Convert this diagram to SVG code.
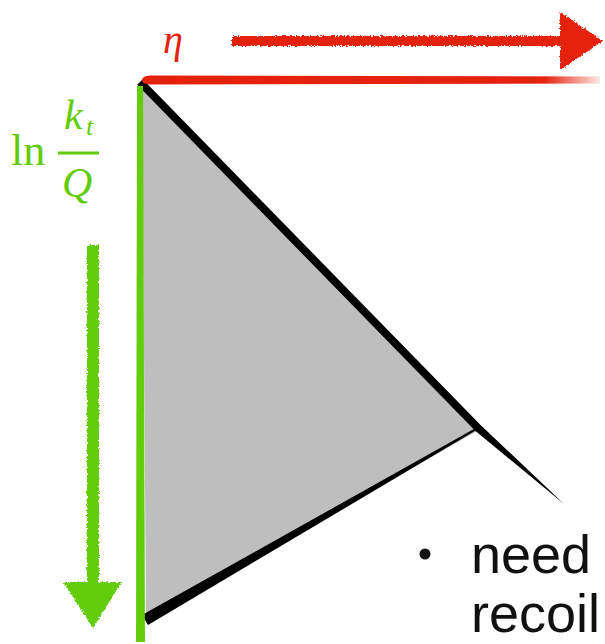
<svg xmlns="http://www.w3.org/2000/svg" width="605" height="644" viewBox="0 0 605 644">
  <defs>
    <style>
      .red { fill: #e5220d; }
      .green { fill: #62cc0a; }
      .edge { fill: #000000; filter: url(#soft); }
      .math { font-family: "Liberation Serif", "DejaVu Serif", serif; fill: #62cc0a; }
      .label { font-family: "Liberation Sans", Arial, sans-serif; font-size: 54px; fill: #111111; }
    </style>
    <filter id="rough" x="-10%" y="-10%" width="120%" height="120%">
      <feTurbulence type="fractalNoise" baseFrequency="0.6" numOctaves="2" seed="3" result="n"/>
      <feDisplacementMap in="SourceGraphic" in2="n" scale="4" xChannelSelector="R" yChannelSelector="G"/>
    </filter>
    <filter id="soft" x="-5%" y="-5%" width="110%" height="110%">
      <feGaussianBlur stdDeviation="0.7"/>
    </filter>
    <linearGradient id="fadeRed" x1="0" y1="0" x2="1" y2="0">
      <stop offset="0" stop-color="#e5220d"/>
      <stop offset="0.88" stop-color="#e5220d"/>
      <stop offset="1" stop-color="#e5220d" stop-opacity="0.1"/>
    </linearGradient>
  </defs>

  <g id="cone">
    <polygon points="142,84 479,430 146,619" fill="#bebebe"/>
    <polygon class="edge" points="142.8,79.2 480.8,425.2 564,504 475.2,430.8 137.2,84.8"/>
    <polygon class="edge" points="142,615 477.5,427.1 479,428.5 148,625"/>
  </g>

  <g id="eta-axis">
    <path d="M142,80 Q142,76 150,75.5 L600,76.5 L600,83.5 L150,84.5 Q142,84 142,80 Z" fill="url(#fadeRed)" filter="url(#soft)"/>
    <g filter="url(#rough)">
      <rect class="red" x="232" y="36" width="332" height="10"/>
      <polygon class="red" points="560,12 603,41 560,70"/>
    </g>
    <text x="163" y="53" font-family="Liberation Serif, DejaVu Serif, serif" font-style="italic" font-size="40" fill="#e5220d">η</text>
  </g>

  <g id="lnkt-axis">
    <polygon class="green" points="137,86 143,86 145,642 136,642" filter="url(#soft)"/>
    <g filter="url(#rough)">
      <rect class="green" x="87" y="245" width="12" height="340"/>
      <polygon class="green" points="63,582 122,582 93,628"/>
    </g>
    <text class="math" x="11" y="165" font-size="44">ln</text>
    <text class="math" x="64" y="129" font-size="42" font-style="italic">k</text>
    <text class="math" x="86" y="135" font-size="26" font-style="italic">t</text>
    <rect class="green" x="58" y="151.5" width="41" height="3"/>
    <text class="math" x="62" y="197" font-size="42" font-style="italic">Q</text>
  </g>

  <g id="note">
    <circle cx="425" cy="554" r="5.5" fill="#111111"/>
    <text class="label" x="471" y="573">need</text>
    <text class="label" x="471" y="632">recoil</text>
  </g>
</svg>
